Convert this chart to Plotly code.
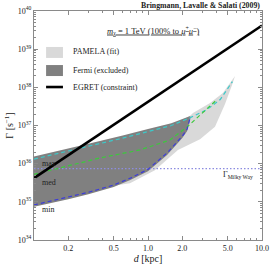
import plotly.graph_objects as go

# ---------------- data (log10 of Gamma in s^-1, distance in kpc) ----------------
egret_d = [0.1, 10.0]
egret_logG = [35.62, 39.62]

max_d = [0.1, 0.3, 0.6, 1.0, 1.6, 2.33, 3.3, 4.3, 5.0, 5.5]
max_logG = [36.12, 36.45, 36.67, 36.84, 37.0, 37.2, 37.42, 37.68, 37.95, 38.15]

med_d = [0.1, 0.38, 0.85, 1.56, 2.2, 2.86, 3.5, 4.0]
med_logG = [35.72, 36.15, 36.36, 36.62, 36.96, 37.28, 37.5, 37.67]

min_d = [0.1, 0.2, 0.3, 0.5, 0.7, 1.0, 1.47, 2.0, 2.2, 2.35]
min_logG = [34.92, 35.12, 35.25, 35.44, 35.62, 35.85, 36.28, 36.72, 36.9, 37.22]

fermi_top_d = [0.1, 0.3, 0.6, 1.0, 1.6, 2.35]
fermi_top_logG = [36.19, 36.52, 36.74, 36.91, 37.06, 37.25]

pamela_low_d = [0.5, 0.695, 1.15, 1.83, 2.86, 3.87, 4.73, 5.46, 5.8]
pamela_low_logG = [35.42, 35.49, 35.83, 36.36, 36.64, 36.97, 37.56, 38.06, 38.30]
pamela_up_d = [5.8, 4.54, 3.5, 2.48, 2.33, 1.04, 0.57, 0.5]
pamela_up_logG = [38.30, 37.85, 37.59, 37.33, 37.25, 36.75, 36.36, 35.42]

milky_way_logG = 35.87

x_tickvals = [0.2, 0.5, 1.0, 2.0, 5.0, 10.0]
x_ticktext = ["0.2", "0.5", "1.0", "2.0", "5.0", "10.0"]
x_minor = [0.1, 0.3, 0.4, 0.6, 0.7, 0.8, 0.9, 3.0, 4.0, 6.0, 7.0, 8.0, 9.0]
y_exponents = [34, 35, 36, 37, 38, 39, 40]

legend_labels = ["PAMELA (fit)", "Fermi (excluded)", "EGRET (constraint)"]
model_labels = ["max", "med", "min"]

# ---------------- figure ----------------
FONT = "Liberation Serif"
LIGHT = "#d9d9d9"
DARK = "#808080"

def pw(v):
    return [10.0 ** float(x) for x in v]

y_minor = [k * 10.0 ** e for e in y_exponents[:-1] for k in range(2, 10)]

fig = go.Figure()

# PAMELA band
fig.add_trace(go.Scatter(
    x=pamela_low_d + pamela_up_d, y=pw(pamela_low_logG + pamela_up_logG),
    fill="toself", fillcolor=LIGHT, mode="none", hoverinfo="skip", showlegend=False))

# Fermi excluded region (between max and min)
fig.add_trace(go.Scatter(
    x=fermi_top_d + min_d[::-1],
    y=pw(fermi_top_logG) + pw([v - 0.05 for v in min_logG[::-1]]),
    fill="toself", fillcolor=DARK, mode="none", hoverinfo="skip", showlegend=False))

# Milky Way line
fig.add_trace(go.Scatter(
    x=[0.1, 10.0], y=pw([milky_way_logG] * 2), mode="lines",
    line=dict(color="#8c8ce0", width=1.2, dash="1.5px,2px"), showlegend=False))

# model lines
for d, g, c in [(max_d, max_logG, "#3cc8c8"), (med_d, med_logG, "#3cc83c"),
                (min_d, min_logG, "#3c3cd8")]:
    fig.add_trace(go.Scatter(x=d, y=pw(g), mode="lines",
                             line=dict(color=c, width=1.2, dash="4px,3px"),
                             showlegend=False))

# EGRET
fig.add_trace(go.Scatter(x=egret_d, y=pw(egret_logG), mode="lines",
                         line=dict(color="black", width=2.6), showlegend=False))

axis_common = dict(
    type="log", showgrid=False, zeroline=False, showline=True, mirror="allticks",
    linecolor="#8a8a8a", linewidth=1, ticks="inside", ticklen=4, tickcolor="#8a8a8a",
    tickfont=dict(family=FONT, size=8, color="#222"), automargin=False,
)

fig.update_xaxes(**axis_common, range=[-1, 1], tickvals=x_tickvals, ticktext=x_ticktext,
                 minor=dict(ticks="inside", ticklen=2, tickcolor="#8a8a8a", showgrid=False,
                            tickmode="array", tickvals=x_minor),
                 title=dict(text="<i>d</i> [kpc]", font=dict(family=FONT, size=10, color="#222"),
                            standoff=2))
fig.update_yaxes(**axis_common, range=[34, 40], tickvals=pw(y_exponents),
                 ticktext=[f"10<sup>{e}</sup>" for e in y_exponents],
                 minor=dict(ticks="inside", ticklen=2, tickcolor="#8a8a8a", showgrid=False,
                            tickmode="array", tickvals=y_minor),
                 title=dict(text="Γ [s<sup>−1</sup>]", font=dict(family=FONT, size=10, color="#222"),
                            standoff=2))

# legend (manual)
sw = [(0.795, 0.843, LIGHT), (0.716, 0.764, DARK)]
for y0, y1, col in sw:
    fig.add_shape(type="rect", xref="paper", yref="paper", x0=0.053, x1=0.127,
                  y0=y0, y1=y1, fillcolor=col, line=dict(width=0))
fig.add_shape(type="line", xref="paper", yref="paper", x0=0.053, x1=0.127,
              y0=0.668, y1=0.668, line=dict(color="black", width=2.6))
for lab, yy in zip(legend_labels, [0.821, 0.742, 0.668]):
    fig.add_annotation(text=lab, xref="paper", yref="paper", x=0.162, y=yy,
                       xanchor="left", yanchor="middle", showarrow=False,
                       font=dict(family=FONT, size=8, color="#222"))

fig.add_annotation(text="<u><i>m</i><sub>χ</sub> = 1 TeV (100% to <i>μ</i><sup>+</sup><i>μ</i><sup>−</sup>)</u>",
                   xref="paper", yref="paper", x=0.526, y=0.917, xanchor="center",
                   yanchor="middle", showarrow=False,
                   font=dict(family=FONT, size=8.5, color="#222"))
fig.add_annotation(text="<b>Bringmann, Lavalle &amp; Salati (2009)</b>",
                   xref="paper", yref="paper", x=1.0, y=1.026, xanchor="right",
                   yanchor="middle", showarrow=False,
                   font=dict(family=FONT, size=7.8, color="#222"))
for lab, yy in zip(model_labels, [0.336, 0.249, 0.135]):
    fig.add_annotation(text=lab, xref="paper", yref="paper", x=0.026, y=yy,
                       xanchor="left", yanchor="middle", showarrow=False,
                       font=dict(family=FONT, size=8, color="#222"))
fig.add_annotation(text="Γ<sub>Milky Way</sub>", xref="paper", yref="paper",
                   x=0.969, y=0.284, xanchor="right", yanchor="middle", showarrow=False,
                   font=dict(family=FONT, size=8, color="#222"))

fig.update_layout(width=270, height=273, margin=dict(l=34, r=8, t=11, b=33),
                  paper_bgcolor="white", plot_bgcolor="white", hovermode=False,
                  dragmode=False)

fig.write_html("out.html", config={"displayModeBar": False, "staticPlot": True},
               post_script=["var g=document.getElementById('{plot_id}');"
                            "g.style.position='fixed';g.style.left='0px';g.style.top='0px';"])
